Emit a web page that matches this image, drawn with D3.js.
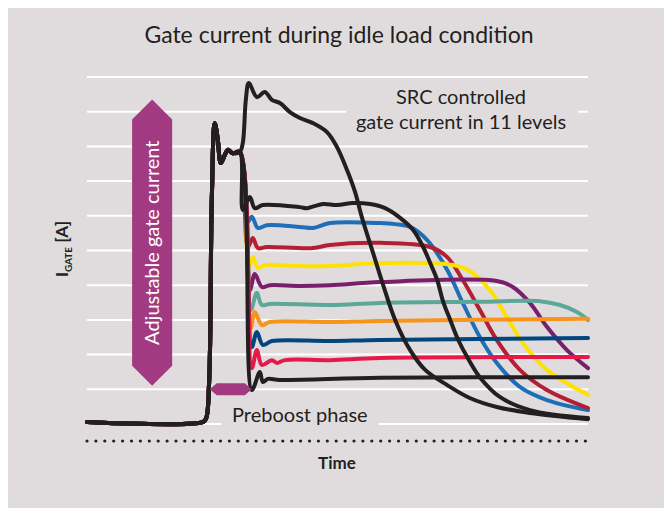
<!DOCTYPE html>
<html>
<head>
<meta charset="utf-8">
<script src="https://cdn.jsdelivr.net/npm/d3@7"></script>
<style>
  body { margin: 0; background: #fff; }
  svg { display: block; font-family: Lato, "Noto Sans", sans-serif; }
</style>
</head>
<body>
<svg id="chart" width="664" height="508"></svg>
<script>
// time in % of the window, current in grid units
const gridLevels = [0, 1, 2, 3, 4, 5, 6, 7, 8, 9, 10];

// shared preboost part of every curve
const preboost = [[0, 0.06], [23.2, 0.06], [23.8, 0.17], [24.4, 1.3], [24.9, 6.4], [25.5, 8.67],
  [26.1, 8.2], [26.7, 7.52], [27.5, 7.75], [28.1, 7.9], [29.1, 7.8], [30.5, 7.84]];

const fastBlack = [[31.1, 8.1], [31.7, 9.34], [32.3, 9.83], [33.9, 9.42], [35.5, 9.57], [36.9, 9.34],
  [38.5, 9.25], [40.5, 8.99], [42.5, 8.82], [45.1, 8.67], [47.9, 8.41], [49.9, 7.98], [51.9, 7.32],
  [53.5, 6.69], [54.9, 5.94], [57.1, 4.93], [59.1, 4.01], [61.5, 3.0], [64.5, 2.13], [67.5, 1.56],
  [71.9, 1.12], [76.4, 0.75], [81.8, 0.49], [88.4, 0.32], [100, 0.14]];
const topBlack = [[31.1, 6.17], [32.5, 6.54], [33.5, 6.22], [35.1, 6.31], [42.5, 6.25], [43.9, 6.22],
  [47.1, 6.34], [49.9, 6.31], [53.1, 6.37], [56.5, 6.34], [59.5, 6.22], [62.5, 5.94], [65.1, 5.59],
  [67.1, 5.1], [68.5, 4.64], [69.9, 4.15], [71.1, 3.52], [72.5, 3.0], [74.1, 2.42], [76.0, 1.9],
  [78.4, 1.35], [82.4, 0.78], [88.4, 0.4], [100, 0.17]];
const blue = [[31.9, 5.79], [32.9, 5.97], [34.1, 5.65], [35.9, 5.73], [42.5, 5.68], [45.1, 5.65],
  [48.5, 5.79], [58.5, 5.79], [61.5, 5.76], [64.5, 5.68], [67.9, 5.3], [71.9, 4.44], [75.0, 3.49],
  [78.4, 2.51], [81.8, 1.76], [86.4, 1.07], [91.8, 0.69], [100, 0.4]];
const red = [[32.1, 5.1], [33.1, 5.36], [34.1, 5.07], [35.9, 5.1], [45.1, 5.07], [48.5, 5.16],
  [58.5, 5.22], [68.5, 5.1], [71.9, 4.81], [75.0, 4.15], [78.4, 3.29], [81.8, 2.42], [86.4, 1.56],
  [91.8, 0.98], [100, 0.46]];
const yellow = [[32.3, 4.52], [33.1, 4.81], [34.1, 4.5], [35.5, 4.58], [42.5, 4.55], [48.5, 4.55],
  [58.5, 4.64], [73.1, 4.58], [77.0, 4.35], [80.4, 3.86], [83.8, 3.08], [87.0, 2.33], [91.8, 1.56],
  [100, 0.84]];
const purple = [[32.5, 3.86], [33.5, 4.32], [34.9, 3.95], [36.5, 4.0], [42.5, 3.98], [48.5, 4.0],
  [58.5, 4.09], [81.8, 4.12], [85.0, 3.95], [88.4, 3.49], [91.8, 2.8], [95.8, 2.13], [100, 1.61]];
const teal = [[32.7, 3.29], [33.9, 3.78], [34.9, 3.43], [36.5, 3.46], [48.5, 3.43], [58.5, 3.49],
  [78.4, 3.52], [90.4, 3.54], [94.4, 3.43], [97.8, 3.23], [100, 3.0]];
const orange = [[32.7, 2.77], [33.5, 3.23], [34.9, 2.85], [36.5, 2.94], [48.5, 2.94], [58.5, 2.97],
  [100, 3.03]];
const navy = [[32.9, 2.22], [33.9, 2.65], [35.1, 2.28], [36.9, 2.39], [48.5, 2.39], [58.5, 2.42],
  [100, 2.48]];
const pink = [[32.9, 1.61], [33.9, 2.13], [34.9, 1.7], [36.9, 1.84], [37.9, 1.76], [39.5, 1.84],
  [48.5, 1.84], [58.5, 1.9], [100, 1.93]];
const bottomBlack = [[32.9, 0.98], [34.5, 1.5], [35.1, 1.21], [36.1, 1.3], [38.5, 1.27], [58.5, 1.33],
  [100, 1.35]];

const coloured = [blue, red, yellow, purple, teal, orange, navy, pink];
const colours = ['#1f6eb8', '#b31f35', '#ffe100', '#7a1f6b', '#5ba899', '#f7941e', '#00467f', '#e6194b'];
const blacks = [fastBlack, topBlack, bottomBlack];

// annotation extents (time, current)
const arrowSpan = { t0: 9, t1: 17, top: 9.35, bottom: 1.1 };
const preboostSpan = { t0: 24.5, t1: 32.9, level: 1.0 };

const svg = d3.select('#chart');
const ink = '#231f20';
const panel = '#e0dcdd';

svg.append('rect').attr('x', 8).attr('y', 8).attr('width', 656).attr('height', 500).attr('fill', panel);

const x = d3.scaleLinear().domain([0, 100]).range([87, 588]);
const y = d3.scaleLinear().domain([0, 10]).range([424, 77]);

svg.append('g').selectAll('line')
    .data(gridLevels)
    .enter()
    .append('line')
    .attr('x1', x(0)).attr('x2', x(100))
    .attr('y1', d => y(d)).attr('y2', d => y(d))
    .attr('stroke', '#fff')
    .attr('stroke-width', 2);

svg.append('text')
    .attr('x', 339).attr('y', 43)
    .attr('text-anchor', 'middle')
    .attr('font-size', 23)
    .attr('fill', ink)
    .text('Gate current during idle load condition');

// label boxes that cut the grid lines
const src = svg.append('g');
src.append('rect').attr('x', 346).attr('y', 100).attr('width', 232).attr('height', 22).attr('fill', panel);
src.append('text').attr('x', 461).attr('y', 104).attr('text-anchor', 'middle')
    .attr('font-size', 20).attr('fill', ink).text('SRC controlled');
src.append('text').attr('x', 461).attr('y', 129).attr('text-anchor', 'middle')
    .attr('font-size', 20).attr('fill', ink).text('gate current in 11 levels');

svg.append('rect').attr('x', 221).attr('y', 415).attr('width', 158).attr('height', 14).attr('fill', panel);
svg.append('text').attr('x', 232).attr('y', 422)
    .attr('font-size', 20).attr('fill', ink).text('Preboost phase');

const line = d3.line()
    .x(d => x(d[0]))
    .y(d => y(d[1]))
    .curve(d3.curveCatmullRom.alpha(0.5));

const curves = svg.append('g').attr('fill', 'none').attr('stroke-width', 4)
    .attr('stroke-linejoin', 'round').attr('stroke-linecap', 'round');

curves.selectAll('path.level')
    .data(coloured)
    .enter()
    .append('path')
    .attr('class', 'level')
    .attr('d', d => line(preboost.concat(d)))
    .attr('stroke', (_, i) => colours[i]);

curves.selectAll('path.black')
    .data(blacks)
    .enter()
    .append('path')
    .attr('class', 'black')
    .attr('d', d => line(preboost.concat(d)))
    .attr('stroke', ink);

// adjustable gate current arrow
const ax0 = x(arrowSpan.t0), ax1 = x(arrowSpan.t1), axm = (ax0 + ax1) / 2;
const ayTop = y(arrowSpan.top), ayBot = y(arrowSpan.bottom), head = (ax1 - ax0) / 2;
svg.append('path')
    .attr('d', `M${axm},${ayTop}L${ax1},${ayTop + head}L${ax1},${ayBot - head}L${axm},${ayBot}L${ax0},${ayBot - head}L${ax0},${ayTop + head}Z`)
    .attr('fill', '#a23a82');
svg.append('text')
    .attr('transform', `translate(${axm + 7},${(ayTop + ayBot) / 2}) rotate(-90)`)
    .attr('text-anchor', 'middle')
    .attr('font-size', 20)
    .attr('fill', '#fff')
    .text('Adjustable gate current');

// preboost marker
const px0 = x(preboostSpan.t0), px1 = x(preboostSpan.t1), py = y(preboostSpan.level);
svg.append('path')
    .attr('d', `M${px0},${py}L${px0 + 7},${py - 6}L${px1 - 7},${py - 6}L${px1},${py}L${px1 - 7},${py + 6}L${px0 + 7},${py + 6}Z`)
    .attr('fill', '#a23a82');

// dotted time axis
svg.append('line')
    .attr('x1', x(0)).attr('x2', x(100) + 1)
    .attr('y1', 441).attr('y2', 441)
    .attr('stroke', ink)
    .attr('stroke-width', 3.2)
    .attr('stroke-linecap', 'round')
    .attr('stroke-dasharray', '0 8.9');

svg.append('text')
    .attr('x', 337).attr('y', 469)
    .attr('text-anchor', 'middle')
    .attr('font-size', 17)
    .attr('font-weight', 'bold')
    .attr('fill', ink)
    .text('Time');

const ylab = svg.append('text')
    .attr('transform', 'translate(68,249) rotate(-90)')
    .attr('text-anchor', 'middle')
    .attr('font-size', 17)
    .attr('font-weight', 'bold')
    .attr('fill', ink);
ylab.append('tspan').text('I');
ylab.append('tspan').attr('font-size', 10).attr('dy', 4).text('GATE');
ylab.append('tspan').attr('dy', -4).text(' [A]');
</script>
</body>
</html>
